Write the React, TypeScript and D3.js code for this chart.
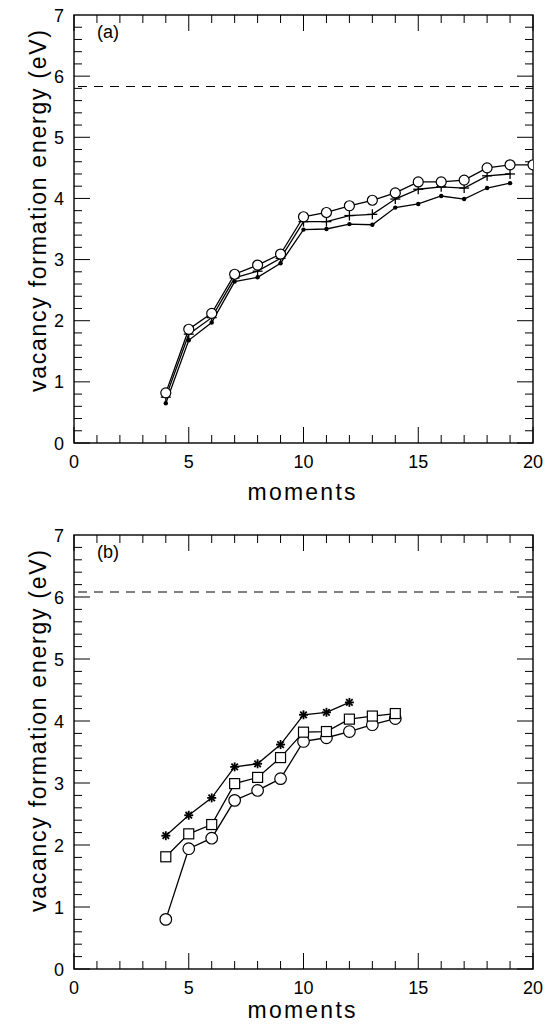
import React from "react";
import * as d3 from "d3";

type Pt = [number, number];

// Panel (a): three approximations, moments 4..20
const aCircles: Pt[] = [[4,0.82],[5,1.86],[6,2.12],[7,2.76],[8,2.91],[9,3.09],[10,3.70],[11,3.77],[12,3.88],[13,3.97],[14,4.09],[15,4.27],[16,4.27],[17,4.30],[18,4.50],[19,4.55],[20,4.55]];
const aPlus: Pt[] = [[4,0.75],[5,1.78],[6,2.05],[7,2.70],[8,2.81],[9,3.02],[10,3.62],[11,3.62],[12,3.72],[13,3.74],[14,3.99],[15,4.15],[16,4.19],[17,4.17],[18,4.37],[19,4.40]];
const aDots: Pt[] = [[4,0.65],[5,1.68],[6,1.97],[7,2.64],[8,2.71],[9,2.94],[10,3.49],[11,3.50],[12,3.58],[13,3.57],[14,3.85],[15,3.91],[16,4.04],[17,3.99],[18,4.17],[19,4.25]];
const aReference = 5.83;

// Panel (b)
const bStars: Pt[] = [[4,2.15],[5,2.48],[6,2.76],[7,3.26],[8,3.31],[9,3.62],[10,4.10],[11,4.14],[12,4.30]];
const bSquares: Pt[] = [[4,1.81],[5,2.18],[6,2.33],[7,2.99],[8,3.09],[9,3.41],[10,3.82],[11,3.83],[12,4.03],[13,4.08],[14,4.12]];
const bCircles: Pt[] = [[4,0.80],[5,1.94],[6,2.11],[7,2.72],[8,2.88],[9,3.07],[10,3.67],[11,3.73],[12,3.83],[13,3.94],[14,4.04]];
const bReference = 6.08;

const xTicks = [0, 5, 10, 15, 20];
const yTicks = [0, 1, 2, 3, 4, 5, 6, 7];

type Marker = "circle" | "plus" | "dot" | "square" | "star";
type Series = { data: Pt[]; marker: Marker };

const FONT = "'Liberation Sans', Arial, Helvetica, sans-serif";

function MarkerShape({ kind, x, y, r }: { kind: Marker; x: number; y: number; r: number }) {
  if (kind === "circle")
    return <circle cx={x} cy={y} r={r} fill="#fff" stroke="#000" strokeWidth={1.2} />;
  if (kind === "dot") return <circle cx={x} cy={y} r={2.2} fill="#000" />;
  if (kind === "square")
    return <rect x={x - 5} y={y - 5} width={10} height={10} fill="#fff" stroke="#000" strokeWidth={1.2} />;
  if (kind === "plus")
    return (
      <g stroke="#000" strokeWidth={1.3}>
        <line x1={x - 5} x2={x + 5} y1={y} y2={y} />
        <line x1={x} x2={x} y1={y - 5} y2={y + 5} />
      </g>
    );
  const s = 4.5;
  const d = s * 0.72;
  return (
    <g stroke="#000" strokeWidth={1.8}>
      <line x1={x - s} x2={x + s} y1={y} y2={y} />
      <line x1={x} x2={x} y1={y - s} y2={y + s} />
      <line x1={x - d} x2={x + d} y1={y - d} y2={y + d} />
      <line x1={x - d} x2={x + d} y1={y + d} y2={y - d} />
    </g>
  );
}

function Panel({
  id,
  top,
  bottom,
  tag,
  series,
  reference,
  circleR,
  labelBaseline,
}: {
  id: string;
  top: number;
  bottom: number;
  tag: string;
  series: Series[];
  reference: number;
  circleR: number;
  labelBaseline: number;
}) {
  const left = 74;
  const right = 533;
  const x = d3.scaleLinear().domain([0, 20]).range([left, right]);
  const y = d3.scaleLinear().domain([0, 7]).range([bottom, top]);
  const line = d3
    .line<Pt>()
    .x((d) => x(d[0]))
    .y((d) => y(d[1]));

  const xMinor = d3.range(0, 21, 1);
  const yMinor = d3.range(0, 35).map((i) => i * 0.2);
  const majorLen = 16;
  const minorLen = 8;
  const isMajorX = (v: number) => v % 5 === 0;
  const isMajorY = (v: number) => Math.abs(v - Math.round(v)) < 1e-6;

  return (
    <g>
      <defs>
        <clipPath id={id}>
          <rect x={left} y={top} width={right - left} height={bottom - top} />
        </clipPath>
      </defs>
      {/* tick marks on all four sides, pointing inward */}
      <g stroke="#000" strokeWidth={1}>
        {xMinor.map((v) => {
          const L = isMajorX(v) ? majorLen : minorLen;
          return (
            <g key={"x" + v}>
              <line x1={x(v)} x2={x(v)} y1={bottom} y2={bottom - L} />
              <line x1={x(v)} x2={x(v)} y1={top} y2={top + L} />
            </g>
          );
        })}
        {yMinor.map((v) => {
          const L = isMajorY(v) ? majorLen : minorLen;
          return (
            <g key={"y" + v}>
              <line x1={left} x2={left + L} y1={y(v)} y2={y(v)} />
              <line x1={right} x2={right - L} y1={y(v)} y2={y(v)} />
            </g>
          );
        })}
      </g>
      <rect x={left} y={top} width={right - left} height={bottom - top} fill="none" stroke="#000" strokeWidth={1.4} />

      {/* tick labels */}
      <g fontFamily={FONT} fontSize={18} fill="#000">
        {xTicks.map((v) => (
          <text key={"xl" + v} x={x(v)} y={bottom + 25} textAnchor="middle">
            {v}
          </text>
        ))}
        {yTicks.map((v) => (
          <text key={"yl" + v} x={64} y={y(v) + 6.5} textAnchor="end">
            {v}
          </text>
        ))}
      </g>

      {/* axis titles */}
      <text
        x={x(10) - 2}
        y={labelBaseline}
        textAnchor="middle"
        fontFamily={FONT}
        fontSize={23}
        textLength={108}
        lengthAdjust="spacing"
      >
        moments
      </text>
      <text
        transform={`translate(46,${top + 196}) rotate(-90)`}
        textAnchor="middle"
        fontFamily={FONT}
        fontSize={23}
        textLength={362}
        lengthAdjust="spacing"
      >
        vacancy  formation  energy  (eV)
      </text>

      <text x={97} y={top + 23} fontFamily={FONT} fontSize={18}>
        {tag}
      </text>

      <g clipPath={`url(#${id})`}>
        <line
          x1={left}
          x2={right}
          y1={y(reference)}
          y2={y(reference)}
          stroke="#000"
          strokeWidth={1.1}
          strokeDasharray="9,7"
          strokeDashoffset={-4}
        />
        {series.map((s, i) => (
          <path key={"l" + i} d={line(s.data) ?? ""} fill="none" stroke="#000" strokeWidth={1.3} />
        ))}
        {series.map((s, i) => (
          <g key={"m" + i}>
            {s.data.map((d, j) => (
              <MarkerShape key={j} kind={s.marker} x={x(d[0])} y={y(d[1])} r={circleR} />
            ))}
          </g>
        ))}
      </g>
    </g>
  );
}

export default function App() {
  return (
    <svg
      width={553}
      height={1026}
      style={{ position: "absolute", left: 0, top: 0, background: "#fff" }}
    >
      <rect width={553} height={1026} fill="#fff" />
      <Panel
        id="clip-a"
        top={15}
        bottom={443}
        tag="(a)"
        series={[
          { data: aDots, marker: "dot" },
          { data: aPlus, marker: "plus" },
          { data: aCircles, marker: "circle" },
        ]}
        reference={aReference}
        circleR={5}
        labelBaseline={500}
      />
      <Panel
        id="clip-b"
        top={535}
        bottom={969}
        tag="(b)"
        series={[
          { data: bCircles, marker: "circle" },
          { data: bSquares, marker: "square" },
          { data: bStars, marker: "star" },
        ]}
        reference={bReference}
        circleR={5.8}
        labelBaseline={1018}
      />
    </svg>
  );
}
